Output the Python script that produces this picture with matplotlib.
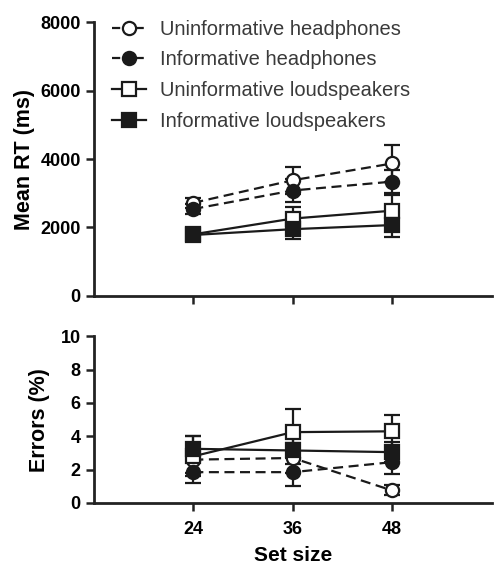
import matplotlib.pyplot as plt
from matplotlib.lines import Line2D

plt.rcParams['font.family'] = ['Liberation Sans', 'DejaVu Sans']

set_size = [24, 36, 48]
labels = ['Uninformative headphones', 'Informative headphones',
          'Uninformative loudspeakers', 'Informative loudspeakers']

# mean RT (ms) and SEM
rt_unif_head = [2720, 3380, 3870]
rt_inf_head = [2540, 3080, 3340]
rt_unif_loud = [1800, 2260, 2490]
rt_inf_loud = [1780, 1950, 2070]
rt_err_unif_head = [150, 400, 530]
rt_err_inf_head = [150, 330, 340]
rt_err_unif_loud = [120, 330, 450]
rt_err_inf_loud = [120, 300, 350]

# errors (%) and SEM
er_unif_head = [2.6, 2.7, 0.75]
er_inf_head = [1.85, 1.85, 2.45]
er_unif_loud = [2.8, 4.25, 4.3]
er_inf_loud = [3.25, 3.15, 3.05]
er_err_unif_head = [0.8, 0.9, 0.3]
er_err_inf_head = [0.65, 0.85, 0.7]
er_err_unif_loud = [1.2, 1.4, 1.0]
er_err_inf_loud = [0.75, 0.8, 0.6]

col = '#1a1a1a'
styles = [('o', 'white', '--'), ('o', col, '--'), ('s', 'white', '-'), ('s', col, '-')]

fig = plt.figure(figsize=(4.97, 5.69), dpi=100)
ax1 = fig.add_axes([0.189, 0.480, 0.80, 0.481])
ax2 = fig.add_axes([0.189, 0.116, 0.80, 0.293])

def draw(ax, series, errs):
    for (m, fc, ls), y, e in zip(styles, series, errs):
        ax.errorbar(set_size, y, yerr=e, fmt=m, ls=ls, color=col, mfc=fc, mec=col,
                    ms=9.5, mew=1.6, lw=1.6, capsize=6, capthick=1.6, elinewidth=1.6,
                    dashes=(4.5, 2.5) if ls == '--' else (None, None))

def style(ax):
    for s in ['top', 'right']:
        ax.spines[s].set_visible(False)
    for s in ['left', 'bottom']:
        ax.spines[s].set_linewidth(2)
        ax.spines[s].set_color('#222222')
    ax.tick_params(width=1.8, length=6, direction='out', labelsize=13, color='#222222')
    ax.tick_params(axis='x', pad=7)
    for t in ax.get_yticklabels() + ax.get_xticklabels():
        t.set_fontweight('bold')
    ax.set_xlim(12, 60)
    ax.set_xticks(set_size)

draw(ax1, [rt_unif_head, rt_inf_head, rt_unif_loud, rt_inf_loud],
     [rt_err_unif_head, rt_err_inf_head, rt_err_unif_loud, rt_err_inf_loud])
ax1.set_ylim(0, 8000)
ax1.set_yticks([0, 2000, 4000, 6000, 8000])
style(ax1)
ax1.set_xticklabels([])
ax1.set_ylabel('Mean RT (ms)', fontsize=15.5, fontweight='bold', labelpad=4)

draw(ax2, [er_unif_head, er_inf_head, er_unif_loud, er_inf_loud],
     [er_err_unif_head, er_err_inf_head, er_err_unif_loud, er_err_inf_loud])
ax2.set_ylim(0, 10)
ax2.set_yticks([0, 2, 4, 6, 8, 10])
style(ax2)
ax2.set_ylabel('Errors (%)', fontsize=15.5, fontweight='bold', labelpad=8)
ax2.set_xlabel('Set size', fontsize=15, fontweight='bold', labelpad=6)

handles = [Line2D([], [], marker=m, ls=ls, color=col, mfc=fc, mec=col, ms=9.5, mew=1.6, lw=1.6)
           for m, fc, ls in styles]
leg = ax1.legend(handles, labels, loc='upper left', bbox_to_anchor=(0.0, 1.075), frameon=False,
                 fontsize=14.5, handlelength=1.7, labelspacing=0.58, handletextpad=0.7)
for t in leg.get_texts():
    t.set_color('#3a3a3a')

fig.savefig('out.png', dpi=100)
